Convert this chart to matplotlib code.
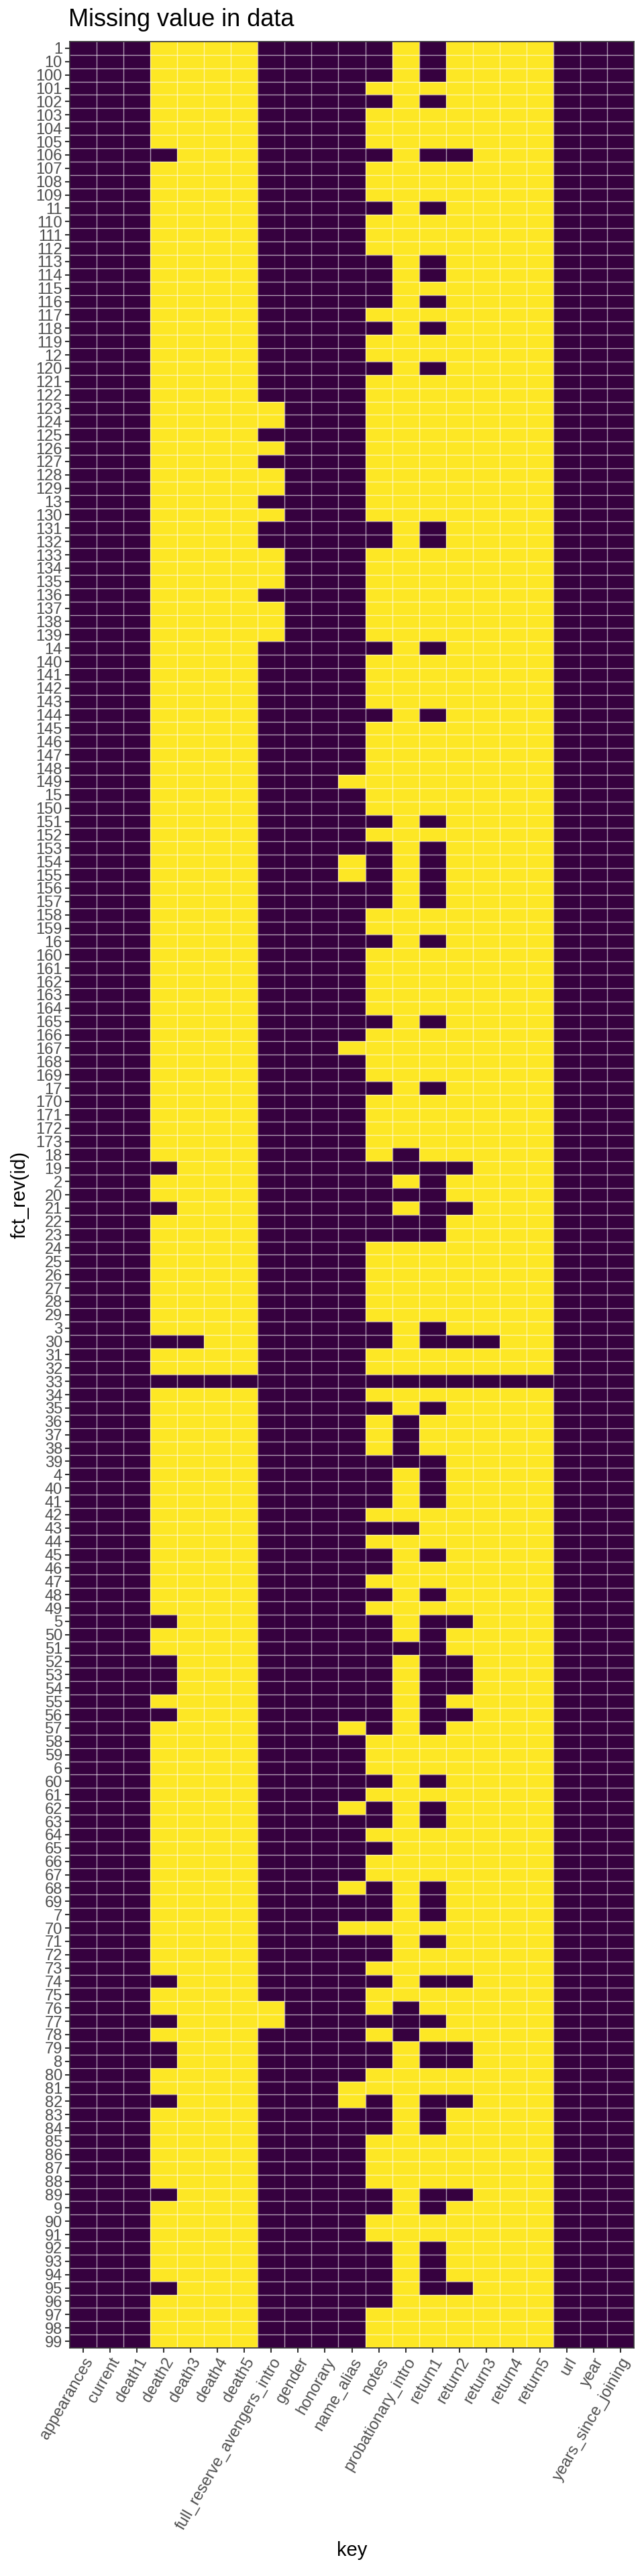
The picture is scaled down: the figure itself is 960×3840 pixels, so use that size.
import matplotlib
matplotlib.use("Agg")
import matplotlib.pyplot as plt
import numpy as np
from matplotlib.colors import ListedColormap

plt.rcParams['font.family'] = ['Liberation Sans', 'DejaVu Sans']

# row ids, ordered as text the way the factor sorts them
ids = sorted(str(i) for i in range(1, 174))

keys = ["appearances", "current", "death1", "death2", "death3", "death4",
        "death5", "full_reserve_avengers_intro", "gender", "honorary",
        "name_alias", "notes", "probationary_intro", "return1", "return2",
        "return3", "return4", "return5", "url", "year", "years_since_joining"]

# columns with no missing values at all
never_missing = ["appearances", "current", "death1", "gender", "honorary",
                 "url", "year", "years_since_joining"]

# mostly-missing columns: ids that DO have a value
death2_present = ['106', '19', '21', '30', '33', '5', '52', '53', '54', '56',
                  '74', '77', '79', '8', '82', '89', '95']
death3_present = ['30', '33']
death4_present = ['33']
death5_present = ['33']
return2_present = ['106', '19', '21', '30', '33', '5', '52', '53', '54', '56',
                   '74', '79', '8', '82', '89', '95']
return3_present = ['30', '33']
return4_present = ['33']
return5_present = ['33']
notes_present = ['1', '10', '100', '102', '106', '11', '113', '114', '115',
                 '116', '118', '120', '131', '132', '14', '144', '151', '153',
                 '154', '155', '156', '157', '16', '165', '17', '19', '2', '20',
                 '21', '22', '23', '3', '30', '33', '35', '39', '4', '40', '41',
                 '43', '45', '46', '48', '5', '50', '51', '52', '53', '54', '55',
                 '56', '57', '60', '62', '63', '65', '68', '69', '7', '71', '72',
                 '74', '77', '79', '8', '82', '83', '84', '89', '9', '92', '93',
                 '94', '95', '96']
probationary_present = ['18', '19', '20', '22', '23', '33', '36', '37', '38',
                        '39', '43', '51', '76', '77', '78']
return1_present = ['1', '10', '100', '102', '106', '11', '113', '114', '116',
                   '118', '120', '131', '132', '14', '144', '151', '153', '154',
                   '155', '156', '157', '16', '165', '17', '19', '2', '20', '21',
                   '22', '23', '3', '30', '33', '35', '39', '4', '40', '41', '45',
                   '48', '5', '50', '51', '52', '53', '54', '55', '56', '57', '60',
                   '62', '63', '68', '69', '7', '71', '74', '77', '79', '8', '82',
                   '83', '84', '89', '9', '92', '93', '94', '95']

# mostly-present columns: ids that are missing
full_reserve_missing = ['123', '124', '126', '128', '129', '130', '133', '134',
                        '135', '137', '138', '139', '76', '77']
name_alias_missing = ['149', '154', '155', '167', '57', '62', '68', '70', '81', '82']

present_lists = {
    "death2": death2_present, "death3": death3_present,
    "death4": death4_present, "death5": death5_present,
    "notes": notes_present, "probationary_intro": probationary_present,
    "return1": return1_present, "return2": return2_present,
    "return3": return3_present, "return4": return4_present,
    "return5": return5_present,
}
missing_lists = {
    "full_reserve_avengers_intro": full_reserve_missing,
    "name_alias": name_alias_missing,
}

missing = np.zeros((len(ids), len(keys)))
for j, k in enumerate(keys):
    for i, r in enumerate(ids):
        if k in never_missing:
            missing[i, j] = 0
        elif k in present_lists:
            missing[i, j] = 0 if r in present_lists[k] else 1
        else:
            missing[i, j] = 1 if r in missing_lists[k] else 0

fig = plt.figure(figsize=(9.6, 38.4), dpi=100)
ax = fig.add_axes([104 / 960, 1 - 3500 / 3840, 841 / 960, 3438 / 3840])

cmap = ListedColormap(["#36013F", "#FDE725"])
ax.pcolormesh(np.arange(len(keys) + 1), np.arange(len(ids) + 1), missing,
              cmap=cmap, vmin=0, vmax=1)
ax.set_xlim(0, len(keys))
ax.set_ylim(len(ids), 0)

# tile borders (inner ones only, the frame is the panel border)
ax.set_xticks(np.arange(1, len(keys)), minor=True)
ax.set_yticks(np.arange(1, len(ids)), minor=True)
ax.set_axisbelow(False)
ax.grid(which="minor", color="white", alpha=0.6, linewidth=1.0)
ax.tick_params(which="minor", length=0)

ax.set_xticks(np.arange(len(keys)) + 0.5)
ax.set_xticklabels(keys, rotation=60, ha="right", va="top", rotation_mode="anchor")
ax.set_yticks(np.arange(len(ids)) + 0.5)
ax.set_yticklabels(ids)
ax.tick_params(which="major", length=5, width=1.5, color="#333333",
               labelcolor="#4D4D4D", labelsize=17, pad=3)

for s in ax.spines.values():
    s.set_color("#333333")
    s.set_linewidth(1.2)
    s.set_zorder(5)

ax.set_ylabel("fct_rev(id)", fontsize=21)
ax.yaxis.set_label_coords(-0.0713, 0.5)
ax.set_xlabel("key", fontsize=21)
ax.xaxis.set_label_coords(0.5, -0.0839)

fig.text(102 / 960, 1 - 39 / 3840, "Missing value in data", fontsize=26,
         ha="left", va="baseline")

fig.savefig("out.png", dpi=100)
